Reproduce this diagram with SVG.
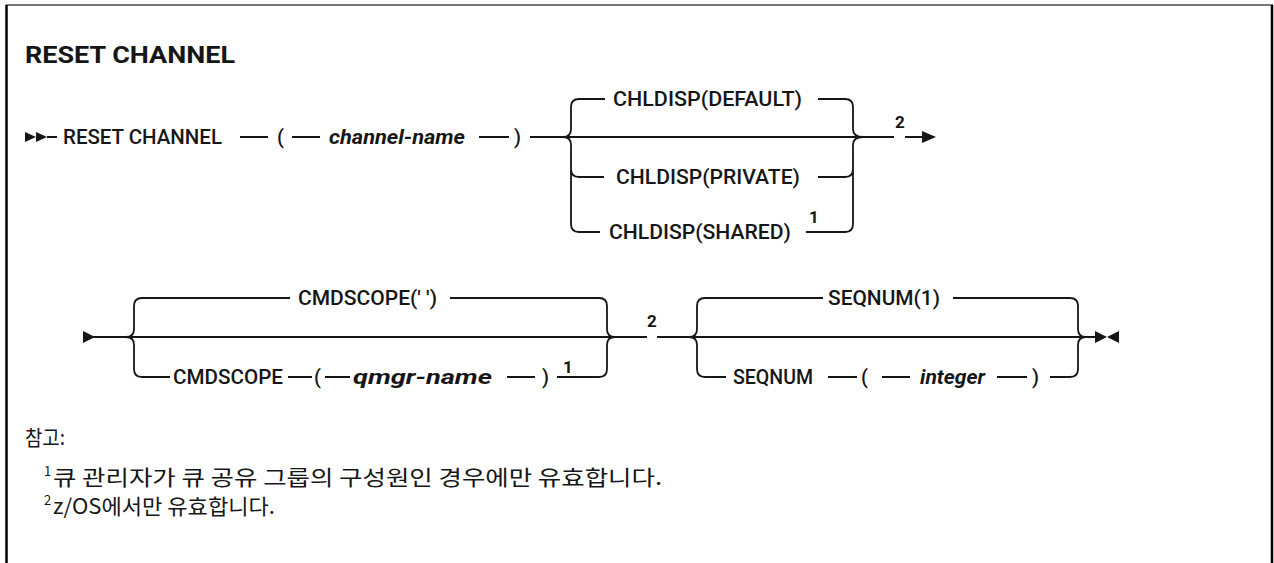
<svg xmlns="http://www.w3.org/2000/svg" width="1274" height="563" viewBox="0 0 1274 563">
<style>
.t{font-family:Roboto,"Liberation Sans",Arial,sans-serif;font-size:20px;font-weight:500;fill:#161616}
.i{font-style:italic;font-weight:bold}
.b{font-weight:bold}
.n{font-family:Roboto,"Liberation Sans",Arial,sans-serif;font-size:17px;font-weight:bold;fill:#161616}
.k{font-family:"Noto Sans CJK KR","Noto Sans",sans-serif;font-size:21px;fill:#161616}
.s{font-family:"Noto Sans CJK KR","Noto Sans",sans-serif;font-size:13px;fill:#161616}
.l{fill:none;stroke:#161616;stroke-width:1.8}
.a{fill:#161616}
</style>
<rect x="0" y="0" width="1274" height="563" fill="#fff"/>
<g id="frame">
<line x1="6" y1="5" x2="1273" y2="5" stroke="#777" stroke-width="2"/>
<line x1="6.5" y1="5" x2="6.5" y2="563" stroke="#000" stroke-width="2.5"/>
<line x1="1272" y1="5" x2="1272" y2="563" stroke="#000" stroke-width="2.5"/>
</g>
<text id="title" class="t b" x="25" y="63" style="font-size:24px" textLength="210" lengthAdjust="spacingAndGlyphs">RESET CHANNEL</text>
<g id="connectors">
<path class="l" d="M47,137 H57 M240,137 H268 M292,137 H320 M479,137 H509 M530,137 H863 M863,137 H894 M905,137 H922"/>
<path class="l" d="M563,137 Q571,137 571,129 V107 Q571,99 579,99 H605 M818,99 H845 Q853,99 853,107 V129 Q853,137 863,137"/>
<path class="l" d="M563,137 Q571,137 571,145 V224 Q571,232 579,232 H600 M571,169 Q571,177 579,177 H604 M818,177 H845 Q853,177 853,169 M806,232 H845 Q853,232 853,224 V145 Q853,137 863,137"/>
<path class="l" d="M92,337 H647 M657,337 H1095"/>
<path class="l" d="M126,337 Q134,337 134,329 V306 Q134,298 142,298 H290 M450,298 H599 Q607,298 607,306 V329 Q607,337 615,337"/>
<path class="l" d="M126,337 Q134,337 134,345 V369 Q134,377 142,377 H170 M288,377 H312 M325,377 H350 M507,377 H535 M557,377 H599 Q607,377 607,369 V345 Q607,337 615,337"/>
<path class="l" d="M689,337 Q697,337 697,329 V306 Q697,298 705,298 H823 M953,298 H1070 Q1078,298 1078,306 V329 Q1078,337 1086,337"/>
<path class="l" d="M689,337 Q697,337 697,345 V369 Q697,377 705,377 H726 M828,377 H857 M882,377 H910 M997,377 H1027 M1050,377 H1070 Q1078,377 1078,369 V345 Q1078,337 1086,337"/>
<polygon class="a" points="25,132 36,137 25,142"/>
<polygon class="a" points="36,132 47,137 36,142"/>
<polygon class="a" points="922,131 936,137 922,143"/>
<polygon class="a" points="83,331 95,337 83,343"/>
<polygon class="a" points="1095,331 1107,337 1095,343"/>
<polygon class="a" points="1119,331 1107,337 1119,343"/>
</g>
<g id="reset"><text class="t" x="63" y="144" textLength="159" lengthAdjust="spacingAndGlyphs">RESET CHANNEL</text></g>
<g id="lparen1"><text class="t" x="277" y="144">(</text></g>
<g id="channel-name"><text class="t i" x="329" y="144" textLength="136" lengthAdjust="spacingAndGlyphs">channel-name</text></g>
<g id="rparen1"><text class="t" x="514" y="144">)</text></g>
<g id="chldisp-default"><text class="t" x="613" y="106" textLength="189" lengthAdjust="spacingAndGlyphs">CHLDISP(DEFAULT)</text></g>
<g id="chldisp-private"><text class="t" x="616" y="184" textLength="184" lengthAdjust="spacingAndGlyphs">CHLDISP(PRIVATE)</text></g>
<g id="chldisp-shared"><text class="t" x="609" y="239" textLength="182" lengthAdjust="spacingAndGlyphs">CHLDISP(SHARED)</text><text class="n" x="809" y="223">1</text></g>
<g id="note-ref-2a"><text class="n" x="895" y="128">2</text></g>
<g id="cmdscope-blank"><text class="t" x="298" y="305" textLength="139" lengthAdjust="spacingAndGlyphs">CMDSCOPE(' ')</text></g>
<g id="cmdscope"><text class="t" x="173" y="384" textLength="110" lengthAdjust="spacingAndGlyphs">CMDSCOPE</text></g>
<g id="lparen2"><text class="t" x="314" y="384">(</text></g>
<g id="qmgr-name"><text class="t i" x="353" y="384" textLength="139" lengthAdjust="spacingAndGlyphs">qmgr-name</text></g>
<g id="rparen2"><text class="t" x="542" y="384">)</text><text class="n" x="563" y="373">1</text></g>
<g id="note-ref-2b"><text class="n" x="647" y="327">2</text></g>
<g id="seqnum1"><text class="t" x="828" y="305" textLength="112" lengthAdjust="spacingAndGlyphs">SEQNUM(1)</text></g>
<g id="seqnum"><text class="t" x="733" y="384" textLength="80" lengthAdjust="spacingAndGlyphs">SEQNUM</text></g>
<g id="lparen3"><text class="t" x="861" y="384">(</text></g>
<g id="integer"><text class="t i" x="920" y="384" textLength="65" lengthAdjust="spacingAndGlyphs">integer</text></g>
<g id="rparen3"><text class="t" x="1032" y="384">)</text></g>
<g id="notes">
<text class="k" x="25" y="445" textLength="40" lengthAdjust="spacingAndGlyphs">참고:</text>
<text class="s" x="44" y="476">1</text>
<text class="k" x="53" y="485" textLength="609" lengthAdjust="spacingAndGlyphs">큐 관리자가 큐 공유 그룹의 구성원인 경우에만 유효합니다.</text>
<text class="s" x="44" y="505">2</text>
<text class="k" x="53" y="514" textLength="222" lengthAdjust="spacingAndGlyphs">z/OS에서만 유효합니다.</text>
</g>
</svg>
